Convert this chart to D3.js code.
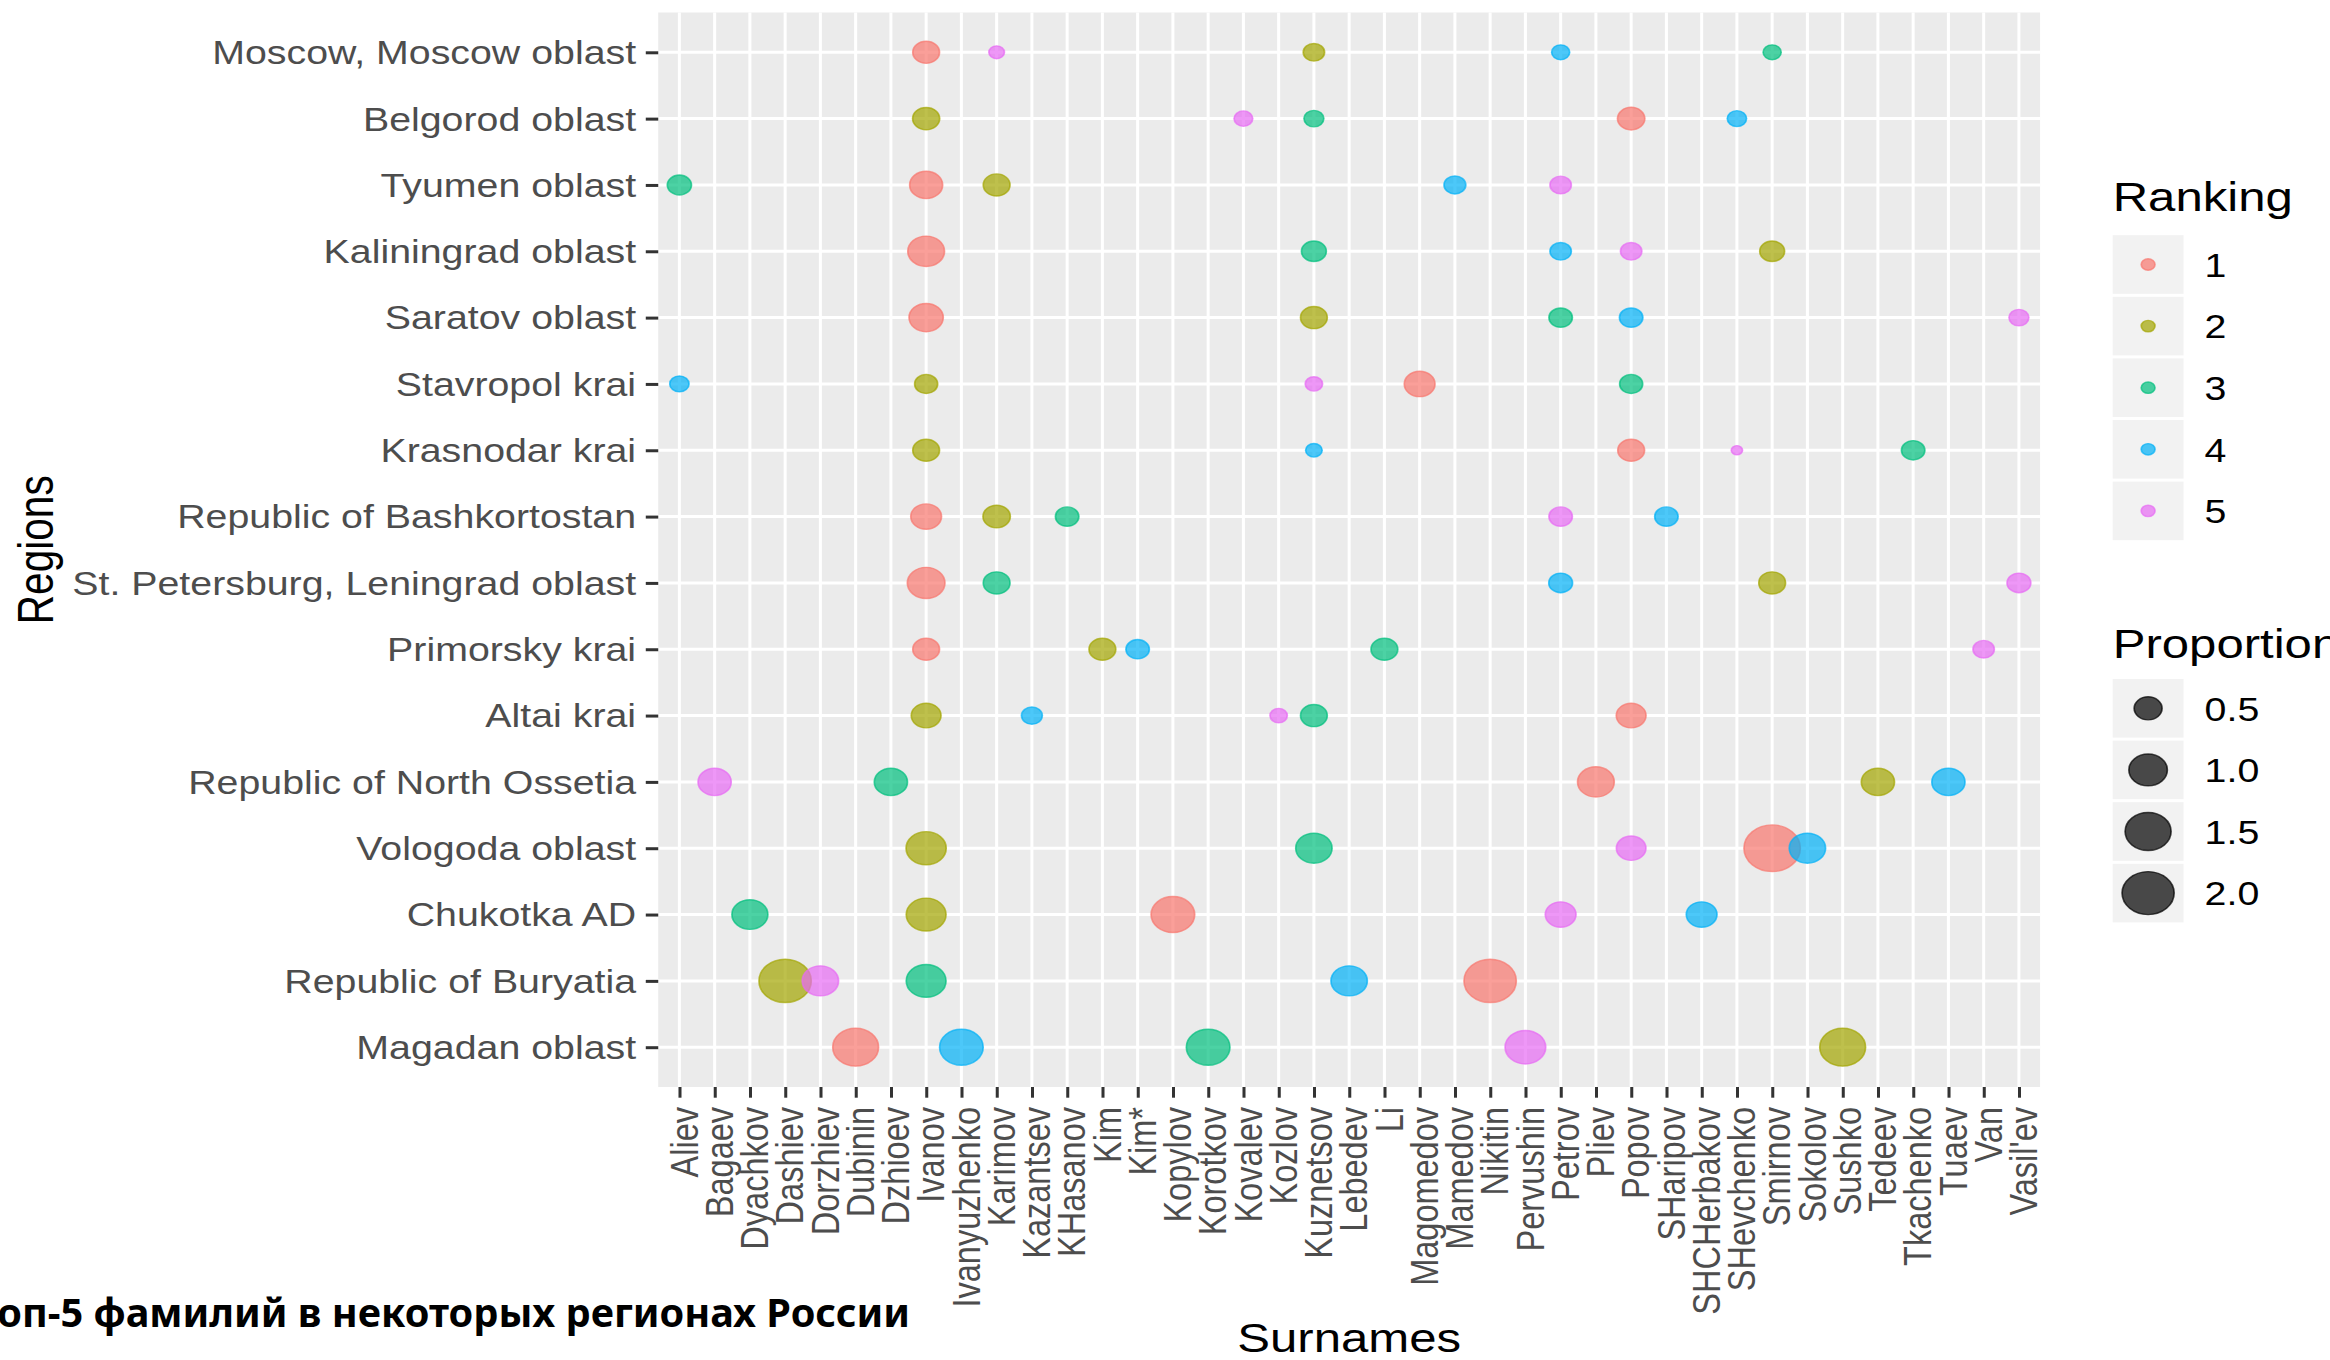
<!DOCTYPE html>
<html>
<head>
<meta charset="utf-8">
<script src="https://cdn.jsdelivr.net/npm/d3@7"></script>
<style>
  body { margin: 0; background: #fff; }
  text { font-family: "Liberation Sans", Arial, sans-serif; }
</style>
</head>
<body>
<div id="chart"></div>
<script>
// Datos: top-5 de apellidos por region (orden = ranking 1..5)

const regions = [
    "Moscow, Moscow oblast", "Belgorod oblast", "Tyumen oblast", "Kaliningrad oblast",
    "Saratov oblast", "Stavropol krai", "Krasnodar krai", "Republic of Bashkortostan",
    "St. Petersburg, Leningrad oblast", "Primorsky krai", "Altai krai",
    "Republic of North Ossetia", "Vologoda oblast", "Chukotka AD",
    "Republic of Buryatia", "Magadan oblast"
];

const surnames = [
    "Aliev", "Bagaev", "Dyachkov", "Dashiev", "Dorzhiev", "Dubinin", "Dzhioev", "Ivanov",
    "Ivanyuzhenko", "Karimov", "Kazantsev", "KHasanov", "Kim", "Kim*", "Kopylov", "Korotkov",
    "Kovalev", "Kozlov", "Kuznetsov", "Lebedev", "Li", "Magomedov", "Mamedov", "Nikitin",
    "Pervushin", "Petrov", "Pliev", "Popov", "SHaripov", "SHCHerbakov", "SHevchenko",
    "Smirnov", "Sokolov", "Sushko", "Tedeev", "Tkachenko", "Tuaev", "Van", "Vasil'ev"
];

const top5Surnames = [
    ["Ivanov", "Kuznetsov", "Smirnov", "Petrov", "Karimov"],
    ["Popov", "Ivanov", "Kuznetsov", "SHevchenko", "Kovalev"],
    ["Ivanov", "Karimov", "Aliev", "Mamedov", "Petrov"],
    ["Ivanov", "Smirnov", "Kuznetsov", "Petrov", "Popov"],
    ["Ivanov", "Kuznetsov", "Petrov", "Popov", "Vasil'ev"],
    ["Magomedov", "Ivanov", "Popov", "Aliev", "Kuznetsov"],
    ["Popov", "Ivanov", "Tkachenko", "Kuznetsov", "SHevchenko"],
    ["Ivanov", "Karimov", "KHasanov", "SHaripov", "Petrov"],
    ["Ivanov", "Smirnov", "Karimov", "Petrov", "Vasil'ev"],
    ["Ivanov", "Kim", "Li", "Kim*", "Van"],
    ["Popov", "Ivanov", "Kuznetsov", "Kazantsev", "Kozlov"],
    ["Pliev", "Tedeev", "Dzhioev", "Tuaev", "Bagaev"],
    ["Smirnov", "Ivanov", "Kuznetsov", "Sokolov", "Popov"],
    ["Kopylov", "Ivanov", "Dyachkov", "SHCHerbakov", "Petrov"],
    ["Nikitin", "Dashiev", "Ivanov", "Lebedev", "Dorzhiev"],
    ["Dubinin", "Sushko", "Korotkov", "Ivanyuzhenko", "Pervushin"]
];

const top5Proportion = [
    [0.46, 0.31, 0.25, 0.25, 0.22],
    [0.48, 0.47, 0.28, 0.27, 0.26],
    [0.71, 0.46, 0.38, 0.32, 0.31],
    [0.90, 0.40, 0.40, 0.31, 0.31],
    [0.77, 0.46, 0.36, 0.36, 0.28],
    [0.61, 0.35, 0.35, 0.27, 0.24],
    [0.46, 0.46, 0.36, 0.23, 0.20],
    [0.61, 0.48, 0.36, 0.36, 0.36],
    [0.95, 0.46, 0.46, 0.37, 0.37],
    [0.46, 0.46, 0.46, 0.36, 0.31],
    [0.57, 0.57, 0.46, 0.30, 0.24],
    [0.90, 0.72, 0.72, 0.72, 0.72],
    [2.40, 1.10, 0.88, 0.88, 0.56],
    [1.33, 1.08, 0.86, 0.61, 0.61],
    [2.02, 2.02, 1.08, 0.88, 0.88],
    [1.49, 1.49, 1.33, 1.33, 1.13]
];

const rankings = [1, 2, 3, 4, 5];
const rankColors = ["#F8766D", "#A3A500", "#00BF7D", "#00B0F6", "#E76BF3"];
const proportionBreaks = [0.5, 1.0, 1.5, 2.0];

// Constantes de dibujo

const WIDTH = 2330;
const HEIGHT = 1360;
const STRETCH = 1.21;           // la imagen original esta estirada en horizontal
const PANEL = { left: 544, right: 1686, top: 12.5, bottom: 1087 };
const R_MIN = 5.35;
const R_MAX = 24;
const ALPHA = 0.7;
const TEXT_GREY = "#4D4D4D";

const rows = [];
regions.forEach((region, i) => {
    top5Surnames[i].forEach((surname, j) => {
        rows.push({ region: region, surname: surname, rank: rankings[j], prop: top5Proportion[i][j] });
    });
});
rows.sort((a, b) => a.rank - b.rank);

const svg = d3.select("#chart")
    .append("svg")
    .attr("width", WIDTH)
    .attr("height", HEIGHT)
    .style("display", "block");

const g = svg.append("g")
    .attr("transform", `scale(${STRETCH}, 1)`);

const xScale = d3.scalePoint()
    .domain(surnames)
    .range([PANEL.left, PANEL.right])
    .padding(0.6);

const yScale = d3.scalePoint()
    .domain(regions)
    .range([PANEL.top, PANEL.bottom])
    .padding(0.6);

const extent = d3.extent(rows, d => d.prop);
const radius = d3.scaleLinear().domain([0, 1]).range([R_MIN, R_MAX]);
const sizeOf = v => radius(Math.sqrt((v - extent[0]) / (extent[1] - extent[0])));

const color = d3.scaleOrdinal().domain(rankings).range(rankColors);

// Panel y cuadricula

g.append("rect")
    .attr("x", PANEL.left)
    .attr("y", PANEL.top)
    .attr("width", PANEL.right - PANEL.left)
    .attr("height", PANEL.bottom - PANEL.top)
    .attr("fill", "#EBEBEB");

g.append("g")
    .selectAll("line")
    .data(surnames)
    .join("line")
    .attr("x1", d => xScale(d))
    .attr("x2", d => xScale(d))
    .attr("y1", PANEL.top)
    .attr("y2", PANEL.bottom)
    .attr("stroke", "#fff")
    .attr("stroke-width", 2.5);

g.append("g")
    .selectAll("line")
    .data(regions)
    .join("line")
    .attr("x1", PANEL.left)
    .attr("x2", PANEL.right)
    .attr("y1", d => yScale(d))
    .attr("y2", d => yScale(d))
    .attr("stroke", "#fff")
    .attr("stroke-width", 3);

// Ejes

const ejeY = g.append("g")
    .attr("transform", `translate(${PANEL.left}, 0)`)
    .call(d3.axisLeft(yScale).tickSize(10.3).tickPadding(8));

ejeY.select(".domain").remove();
ejeY.selectAll(".tick line").attr("stroke", "#333").attr("stroke-width", 3);
ejeY.selectAll(".tick text")
    .attr("font-size", 32.5)
    .attr("fill", TEXT_GREY)
    .attr("dy", "0.35em")
    .style("font-family", "Liberation Sans, Arial, sans-serif");

const ejeX = g.append("g")
    .attr("transform", `translate(0, ${PANEL.bottom})`)
    .call(d3.axisBottom(xScale).tickSize(10.7));

ejeX.select(".domain").remove();
ejeX.selectAll(".tick line").attr("stroke", "#333").attr("stroke-width", 2.5);
ejeX.selectAll(".tick text")
    .attr("transform", "rotate(-90)")
    .attr("text-anchor", "end")
    .attr("x", -20)
    .attr("y", 0)
    .attr("dy", "0.45em")
    .attr("font-size", 32.5)
    .attr("fill", TEXT_GREY)
    .style("font-family", "Liberation Sans, Arial, sans-serif");

g.append("text")
    .text("Surnames")
    .attr("x", (PANEL.left + PANEL.right) / 2)
    .attr("y", 1352)
    .attr("text-anchor", "middle")
    .attr("font-size", 40.6)
    .attr("fill", "#000");

g.append("text")
    .text("Regions")
    .attr("transform", `translate(43.5, ${(PANEL.top + PANEL.bottom) / 2}) rotate(-90)`)
    .attr("text-anchor", "middle")
    .attr("font-size", 40.6)
    .attr("fill", "#000");

// Puntos

g.append("g")
    .selectAll("circle")
    .data(rows)
    .join("circle")
    .attr("cx", d => xScale(d.surname))
    .attr("cy", d => yScale(d.region))
    .attr("r", d => sizeOf(d.prop) - 0.7)
    .attr("fill", d => color(d.rank))
    .attr("fill-opacity", ALPHA)
    .attr("stroke", d => color(d.rank))
    .attr("stroke-opacity", ALPHA)
    .attr("stroke-width", 1.4);

// Leyendas

const LEG_X = 1746;
const KEY = 58.6;
const KEY_STEP = 61.6;
const LABEL_X = 1822;

g.append("text")
    .text("Ranking")
    .attr("x", LEG_X)
    .attr("y", 211)
    .attr("font-size", 40.6)
    .attr("fill", "#000");

const leyendaRank = g.append("g")
    .selectAll("g")
    .data(rankings)
    .join("g")
    .attr("transform", (d, i) => `translate(${LEG_X}, ${235.2 + i * KEY_STEP})`);

leyendaRank.append("rect")
    .attr("width", KEY)
    .attr("height", KEY)
    .attr("fill", "#F2F2F2");

leyendaRank.append("circle")
    .attr("cx", KEY / 2)
    .attr("cy", KEY / 2)
    .attr("r", 5.7)
    .attr("fill", d => color(d))
    .attr("fill-opacity", ALPHA)
    .attr("stroke", d => color(d))
    .attr("stroke-opacity", ALPHA)
    .attr("stroke-width", 1.4);

leyendaRank.append("text")
    .text(d => d)
    .attr("x", LABEL_X - LEG_X)
    .attr("y", KEY / 2)
    .attr("dy", "0.38em")
    .attr("font-size", 32.5)
    .attr("fill", "#000");

g.append("text")
    .text("Proportion")
    .attr("x", LEG_X)
    .attr("y", 658)
    .attr("font-size", 40.6)
    .attr("fill", "#000");

const leyendaProp = g.append("g")
    .selectAll("g")
    .data(proportionBreaks)
    .join("g")
    .attr("transform", (d, i) => `translate(${LEG_X}, ${679 + i * KEY_STEP})`);

leyendaProp.append("rect")
    .attr("width", KEY)
    .attr("height", KEY)
    .attr("fill", "#F2F2F2");

leyendaProp.append("circle")
    .attr("cx", KEY / 2)
    .attr("cy", KEY / 2)
    .attr("r", d => sizeOf(d) - 0.7)
    .attr("fill", "#000")
    .attr("fill-opacity", ALPHA)
    .attr("stroke", "#000")
    .attr("stroke-opacity", ALPHA)
    .attr("stroke-width", 1.4);

leyendaProp.append("text")
    .text(d => d.toFixed(1))
    .attr("x", LABEL_X - LEG_X)
    .attr("y", KEY / 2)
    .attr("dy", "0.38em")
    .attr("font-size", 32.5)
    .attr("fill", "#000");

// Titulo pegado encima de la imagen (sin estirar)

svg.append("text")
    .text("Топ-5 фамилий в некоторых регионах России")
    .attr("x", -24)
    .attr("y", 1327)
    .attr("textLength", 934)
    .attr("lengthAdjust", "spacingAndGlyphs")
    .attr("font-size", 40)
    .attr("font-weight", "bold")
    .attr("fill", "#000")
    .style("font-family", "Noto Sans, sans-serif");
</script>
</body>
</html>
